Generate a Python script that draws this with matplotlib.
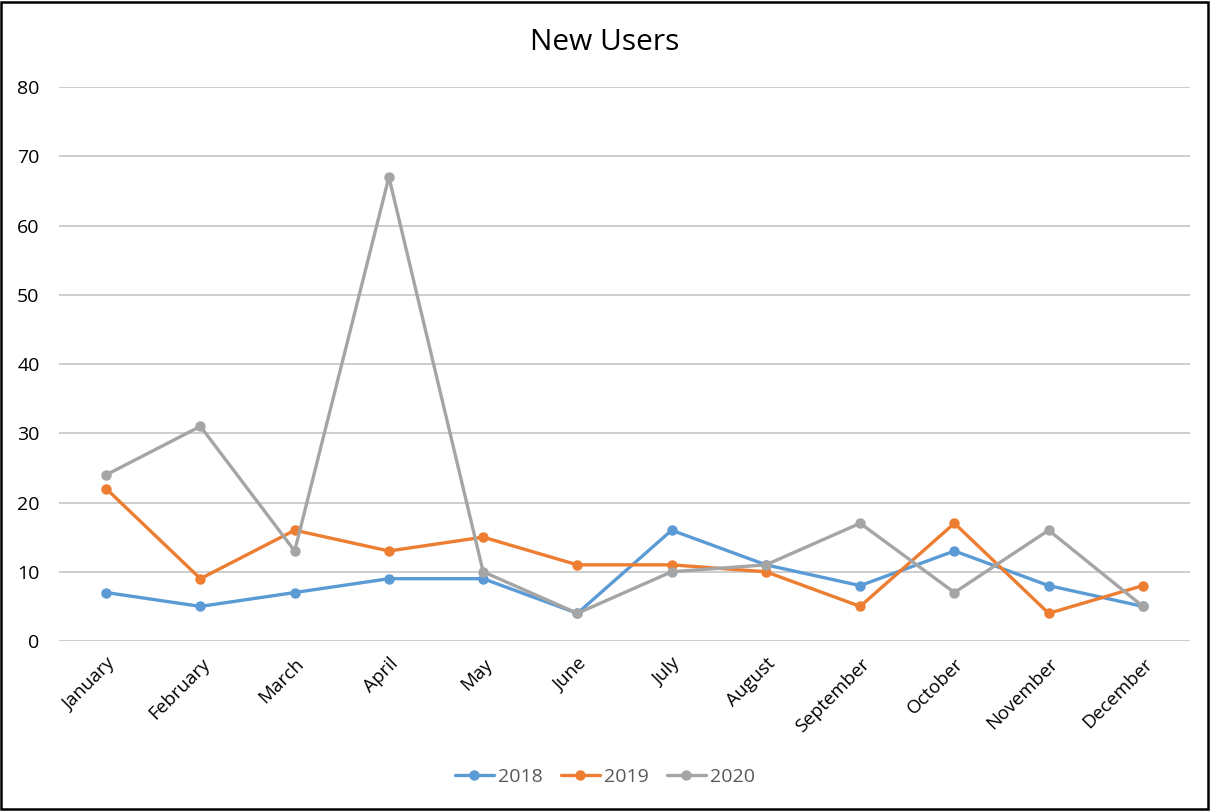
import matplotlib.pyplot as plt
from matplotlib.patches import Rectangle

plt.rcParams['font.family'] = ['Open Sans', 'DejaVu Sans']

months = ["January", "February", "March", "April", "May", "June", "July",
          "August", "September", "October", "November", "December"]
users_2018 = [7, 5, 7, 9, 9, 4, 16, 11, 8, 13, 8, 5]
users_2019 = [22, 9, 16, 13, 15, 11, 11, 10, 5, 17, 4, 8]
users_2020 = [24, 31, 13, 67, 10, 4, 10, 11, 17, 7, 16, 5]
series = [("2018", users_2018, "#5B9BD5"),
          ("2019", users_2019, "#ED7D31"),
          ("2020", users_2020, "#A5A5A5")]

fig = plt.figure(figsize=(12.1, 8.11), dpi=100)
ax = fig.add_axes([0.0488, 0.2096, 0.9347, 0.6831])

x = range(len(months))
for name, vals, col in series:
    ax.plot(x, vals, color=col, lw=2.4, marker="o", ms=6.5, label=name,
            solid_joinstyle="round", solid_capstyle="round")

ax.set_xlim(-0.5, len(months) - 0.5)
ax.set_ylim(0, 80)
ax.set_yticks(range(0, 81, 10))
ax.set_xticks(list(x))
ax.set_xticklabels(months, rotation=45, ha="right", rotation_mode="anchor",
                   fontsize=13.5)
ax.tick_params(axis="y", labelsize=14, length=0, pad=14)
ax.tick_params(axis="x", length=0, pad=10)
ax.yaxis.grid(True, color="#C0C0C0", lw=1.1)
ax.set_axisbelow(True)
for s in ax.spines.values():
    s.set_visible(False)

fig.text(0.5, 0.947, "New Users", ha="center", va="center", fontsize=21.5)
fig.legend(loc="center", bbox_to_anchor=(0.5, 0.042), ncol=3, frameon=False,
           fontsize=14, labelcolor="#595959", handlelength=2.0,
           columnspacing=0.9, handletextpad=0.25)

# outer frame
fig.patches.append(Rectangle((0.001, 0.002), 0.997, 0.996, transform=fig.transFigure,
                             fill=False, edgecolor="black", lw=1.8))

fig.savefig("out.png", dpi=100)
